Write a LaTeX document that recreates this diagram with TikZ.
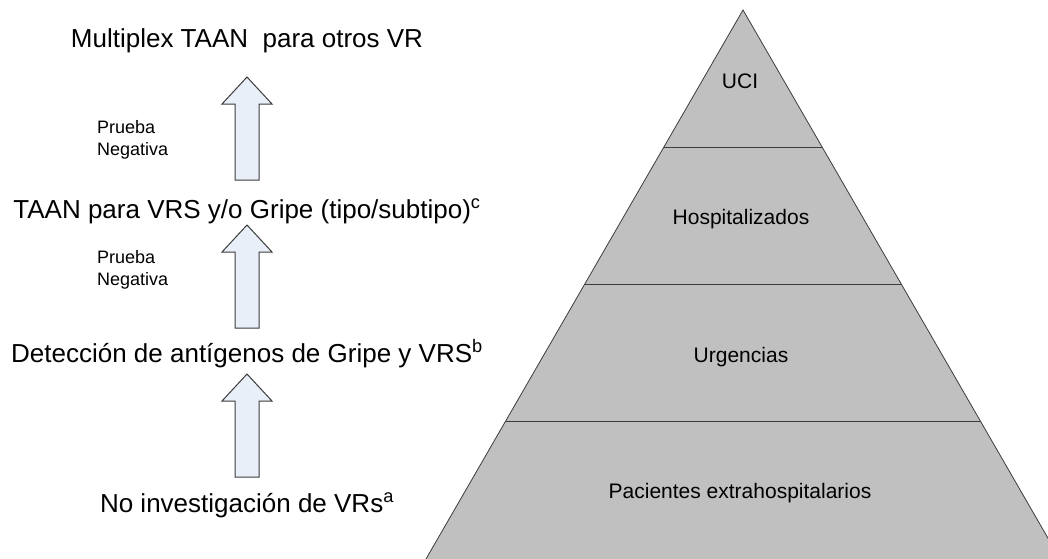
\documentclass[tikz,border=0pt]{standalone}
\usepackage{fontspec}
\setmainfont{Liberation Sans}
\definecolor{arrowfill}{HTML}{E9EFF8}
\definecolor{edgegray}{HTML}{3C3C3C}
\definecolor{pyrfill}{HTML}{C0C0C0}
\begin{document}
\begin{tikzpicture}[x=1pt,y=-1pt,
  bigtext/.style={font=\fontsize{26}{31}\selectfont, inner sep=0pt, anchor=base},
  smalltext/.style={font=\fontsize{18}{22.5}\selectfont, inner sep=0pt, anchor=west, align=left},
  levellabel/.style={font=\fontsize{21}{25}\selectfont, inner sep=0pt, anchor=base},
  blockarrow/.style={draw=edgegray, fill=arrowfill, line width=1pt, line join=miter},
  pyramid/.style={draw=edgegray, fill=pyrfill, line width=0.8pt},
  bandline/.style={draw=edgegray, line width=1pt},
  uparr/.pic={\path[blockarrow] (-12,0) -- (-12,-76) -- (-25,-76) -- (0,-103) -- (25,-76) -- (12,-76) -- (12,0) -- cycle;}
]
\useasboundingbox (0,0) rectangle (1048,558);
\clip (0,0) rectangle (1048,558);

% left column texts
\node[bigtext] (t4) at (247,47) {Multiplex TAAN\ \ para otros VR};
\node[bigtext] (t3) at (247,218) {TAAN para VRS y/o Gripe (tipo/subtipo)\textsuperscript{c}};
\node[bigtext] (t2) at (247,362) {Detección de antígenos de Gripe y VRS\textsuperscript{b}};
\node[bigtext] (t1) at (247,512) {No investigación de VRs\textsuperscript{a}};

% block arrows
\pic at (247,180) {uparr};
\pic at (247,328) {uparr};
\pic at (247,477) {uparr};

% side labels
\node[smalltext] (n1) at (97,140) {Prueba\\Negativa};
\node[smalltext] (n2) at (97,270) {Prueba\\Negativa};

% pyramid
\coordinate (apex) at (743,10);
\coordinate (bl) at (425.4,560);
\coordinate (br) at (1060.6,560);
\path[pyramid] (apex) -- (br) -- (bl) -- cycle;
\draw[bandline] (663.9,147) -- (822.1,147);
\draw[bandline] (584.8,284) -- (901.2,284);
\draw[bandline] (505.7,421) -- (980.3,421);

\node[levellabel] (uci) at (740,88) {UCI};
\node[levellabel] (hos) at (741,224) {Hospitalizados};
\node[levellabel] (urg) at (741,362) {Urgencias};
\node[levellabel] (pac) at (740,498) {Pacientes extrahospitalarios};
\end{tikzpicture}
\end{document}
